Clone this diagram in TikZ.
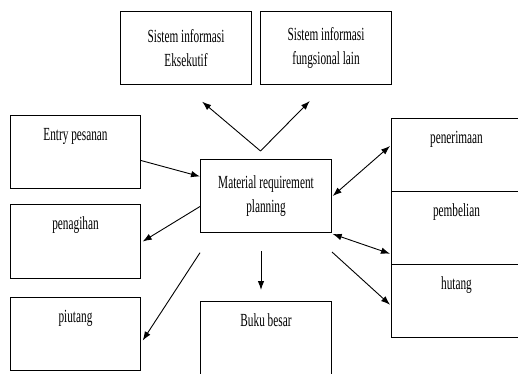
\documentclass[tikz,border=0pt]{standalone}
\usepackage{fontspec}
\setmainfont[FakeStretch=0.61]{Liberation Serif}
\usetikzlibrary{arrows.meta}

\begin{document}
\begin{tikzpicture}[x=1pt,y=-1pt]

    \tikzset{
      kotak/.style={
        draw,
        line width=1pt,
        anchor=north west,
        inner sep=0pt,
        align=center,
        minimum width=131pt,
        minimum height=73pt,
        font=\fontsize{18.5}{24}\selectfont,
      },
      satu/.style={text height=25pt, text depth=48pt},
      panah/.style={line width=0.9pt, -{Latex[length=9pt,width=6.5pt]}},
      dua/.style={line width=0.9pt, {Latex[length=9pt,width=6.5pt]}-{Latex[length=9pt,width=6.5pt]}},
    }
    \useasboundingbox (0,0) rectangle (518,373);
    \clip (0,0) rectangle (518,373);

	\node[kotak] (sie) at (120,11) {Sistem informasi\\Eksekutif};
	\node[kotak] (sifl) at (260,11) {Sistem informasi\\fungsional lain};

	\node[kotak,satu,minimum width=130pt] (entry) at (10,115) {Entry pesanan};
	\node[kotak,satu,minimum width=130pt,text depth=49pt] (tagih) at (10,204) {penagihan};
	\node[kotak,satu,minimum width=130pt] (piut) at (10,297) {piutang};

	\node[kotak] (mrp) at (200,159) {Material requirement\\planning};
	\node[kotak,satu,text depth=50pt] (buku) at (200,301) {Buku besar};

	\node[kotak,satu,minimum width=130pt] (terima) at (391,118) {penerimaan};
	\node[kotak,satu,minimum width=130pt] (beli) at (391,191) {pembelian};
	\node[kotak,satu,minimum width=130pt] (hutang) at (391,264) {hutang};

	\draw[panah] ([shift={(-5.5pt,8pt)}]mrp.north) -- ([shift={(16.2pt,-16.7pt)}]sie.south);
	\draw[panah] ([shift={(-5.5pt,8pt)}]mrp.north) -- ([shift={(-16.2pt,-16pt)}]sifl.south);

	\draw[panah] ([yshift=-8.5pt]entry.east) -- ([yshift=19.5pt]mrp.west);
	\draw[panah] ([yshift=-10.5pt]mrp.west) -- ([xshift=1.7pt]tagih.east);
	\draw[panah] ([yshift=-19.7pt]mrp.south west) -- ([shift={(1.7pt,-6.5pt)}]piut.east);
	\draw[panah] ([shift={(-5pt,-18pt)}]mrp.south) -- ([shift={(-5pt,11pt)}]buku.north);

	\draw[dua] ([xshift=0.7pt]mrp.east) -- ([shift={(-1pt,9pt)}]terima.west);
	\draw[dua] ([shift={(0.7pt,-1pt)}]mrp.south east) -- ([shift={(-1pt,-25.7pt)}]beli.west);
	\draw[panah] ([yshift=-19pt]mrp.south east) -- ([shift={(-1pt,-3.7pt)}]hutang.west);

\end{tikzpicture}
\end{document}
